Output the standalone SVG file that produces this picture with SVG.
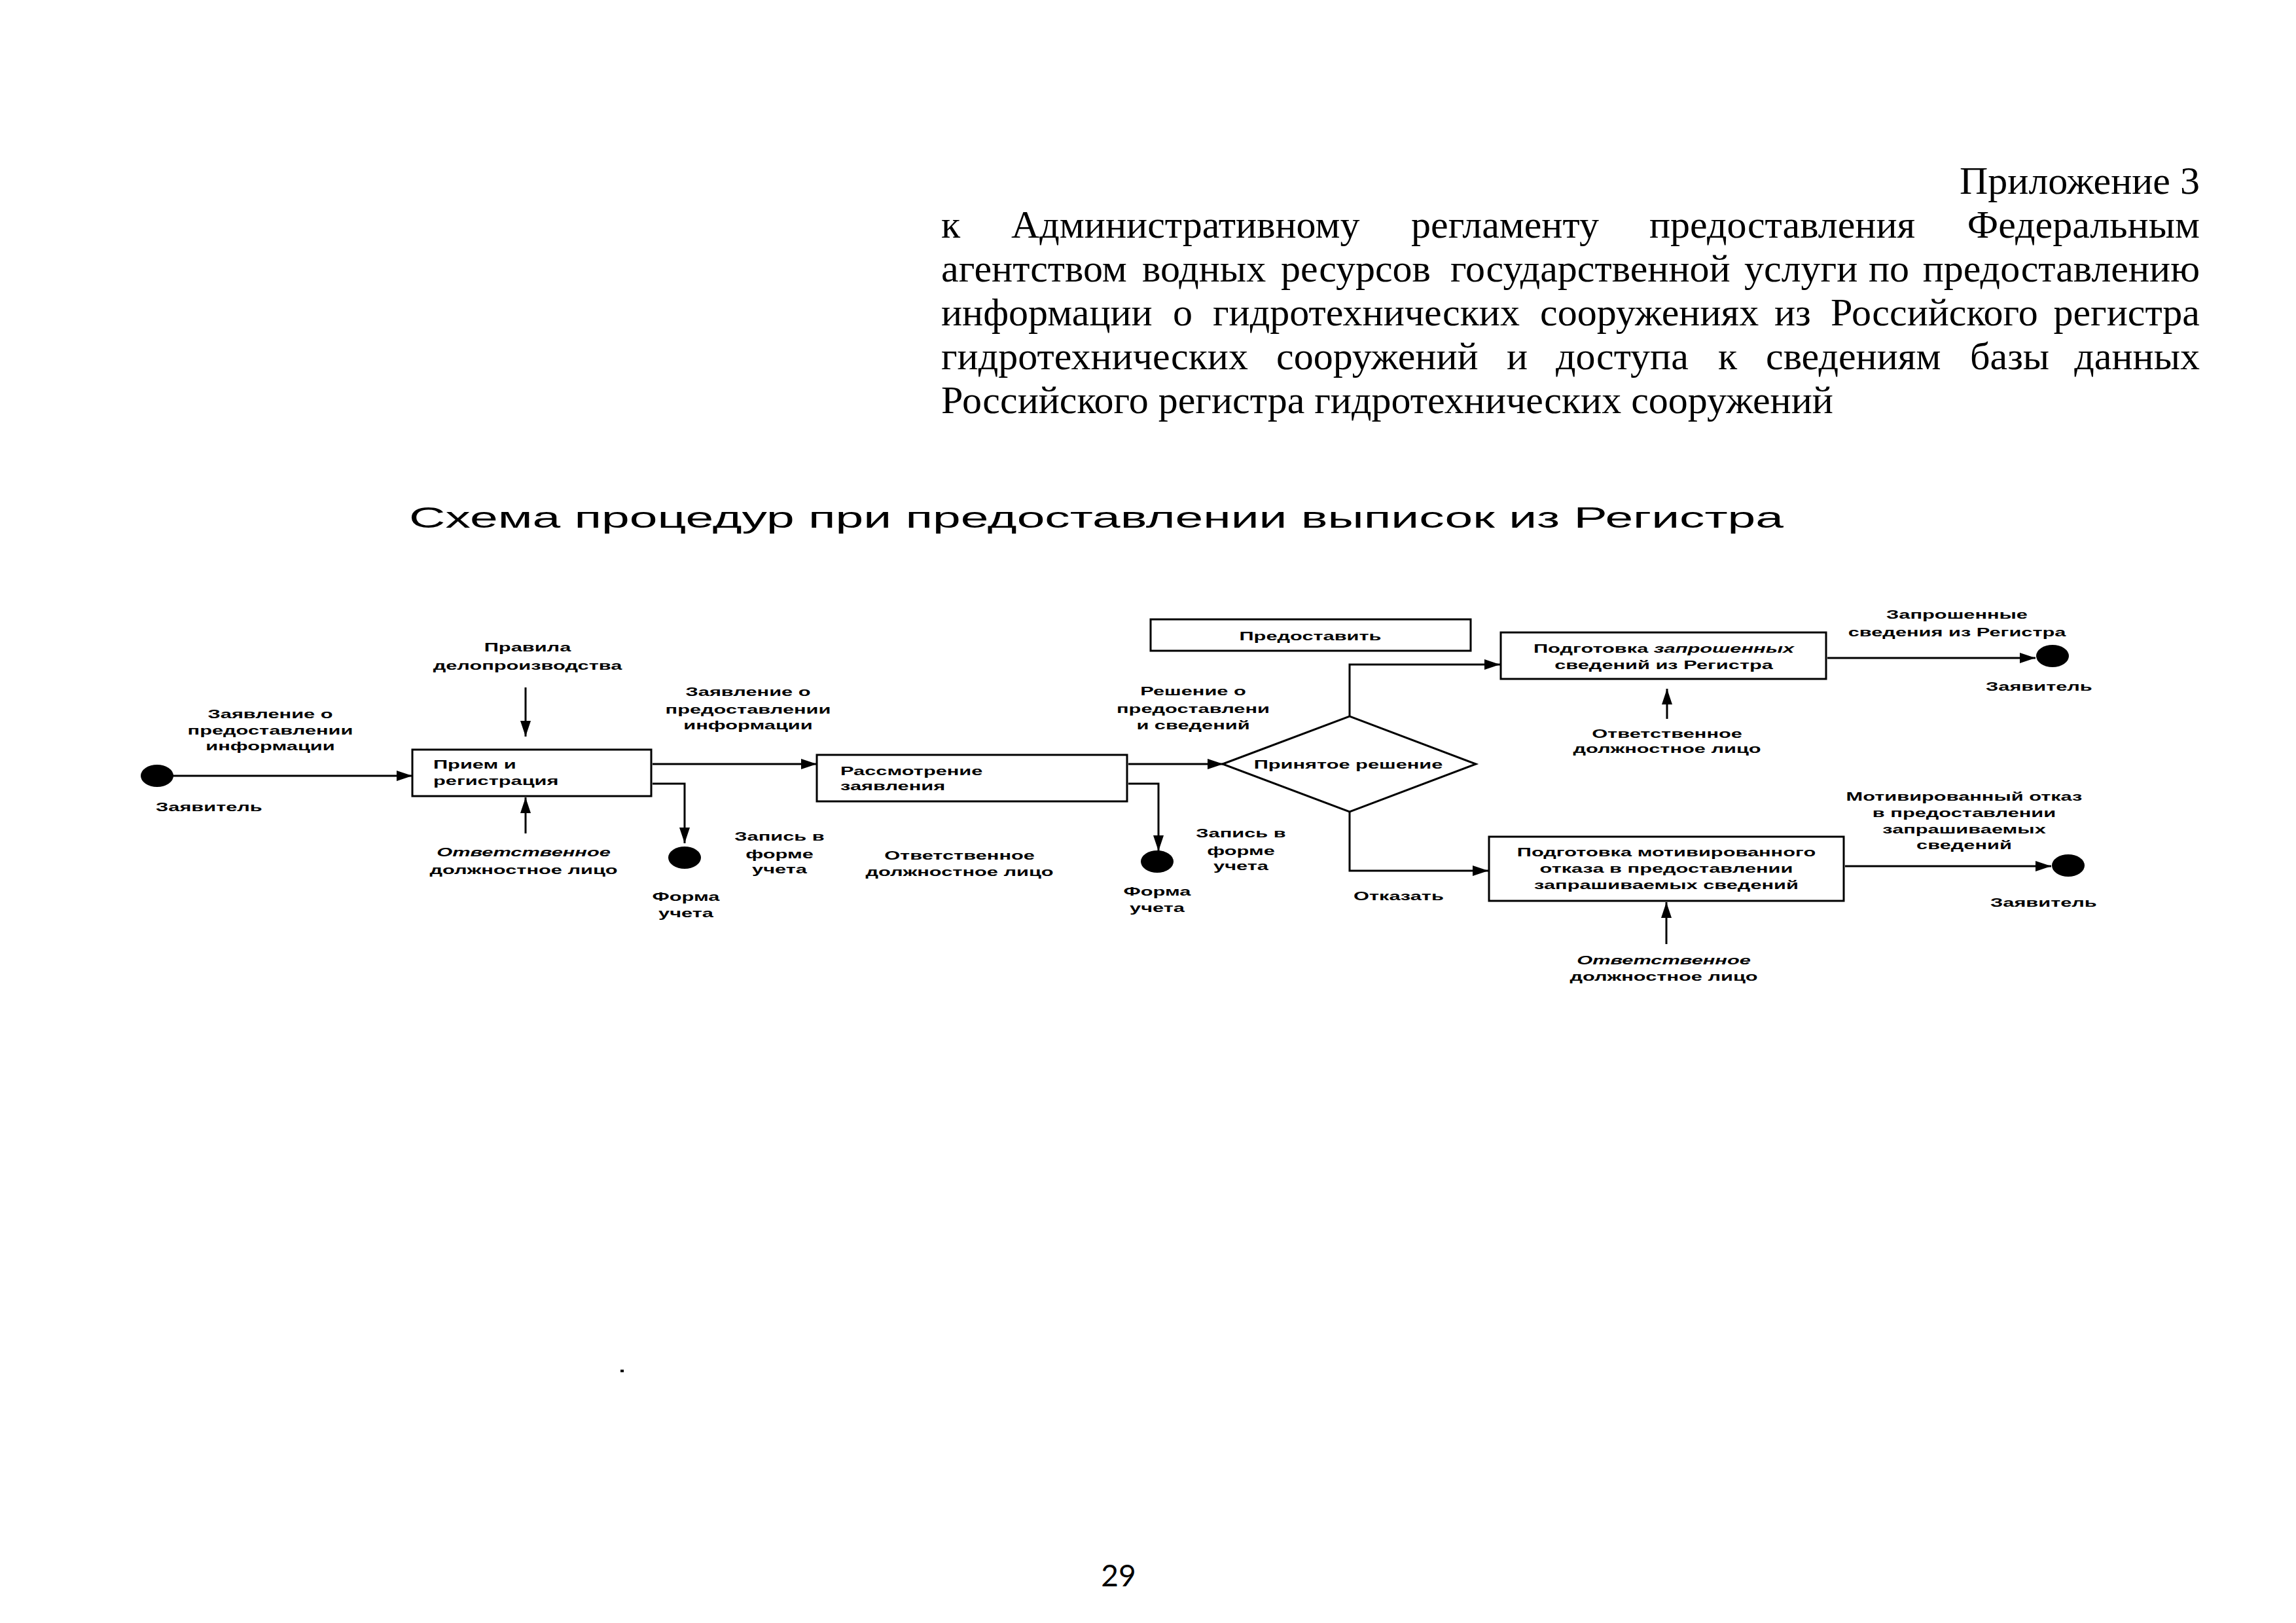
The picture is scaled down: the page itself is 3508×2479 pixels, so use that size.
<svg xmlns="http://www.w3.org/2000/svg" width="3508" height="2479" viewBox="0 0 3508 2479">
<style>
.hd{font-family:"Liberation Serif","Times New Roman",serif;font-size:60px;fill:#000}
.ttl{font-family:"Liberation Sans",Arial,sans-serif;font-size:44px;fill:#000}
.lb{font-family:"Liberation Sans",Arial,sans-serif;font-size:19px;font-weight:bold;fill:#000}
.it{font-style:italic}
.box{fill:#fff;stroke:#000;stroke-width:3}
.ln{fill:none;stroke:#000;stroke-width:3}
.dot{fill:#000}
.pg{font-family:Lato,"Liberation Sans",sans-serif;font-size:46px;fill:#000}
</style>
<defs>
<marker id="ah" markerUnits="userSpaceOnUse" markerWidth="26" markerHeight="18" refX="24" refY="8" orient="auto">
<path d="M0,0 L24,8 L0,16 Z" fill="#000"/>
</marker>
</defs>
<rect width="3508" height="2479" fill="#fff"/>

<g id="header">
<text class="hd" x="3361" y="296" text-anchor="end">Приложение 3</text>
<text class="hd" x="1438" y="363">к</text>
<text class="hd" x="1545" y="363">Административному</text>
<text class="hd" x="2156" y="363">регламенту</text>
<text class="hd" x="2520" y="363">предоставления</text>
<text class="hd" x="3361" y="363" text-anchor="end">Федеральным</text>
<text class="hd" x="1438" y="430">агентством</text>
<text class="hd" x="1745" y="430">водных</text>
<text class="hd" x="1957" y="430">ресурсов</text>
<text class="hd" x="2216" y="430">государственной</text>
<text class="hd" x="2665" y="430">услуги</text>
<text class="hd" x="2855" y="430">по</text>
<text class="hd" x="3361" y="430" text-anchor="end">предоставлению</text>
<text class="hd" x="1438" y="497">информации</text>
<text class="hd" x="1792" y="497">о</text>
<text class="hd" x="1853" y="497">гидротехнических</text>
<text class="hd" x="2353" y="497">сооружениях</text>
<text class="hd" x="2711" y="497">из</text>
<text class="hd" x="2797" y="497">Российского</text>
<text class="hd" x="3361" y="497" text-anchor="end">регистра</text>
<text class="hd" x="1438" y="564">гидротехнических</text>
<text class="hd" x="1950" y="564">сооружений</text>
<text class="hd" x="2302" y="564">и</text>
<text class="hd" x="2377" y="564">доступа</text>
<text class="hd" x="2625" y="564">к</text>
<text class="hd" x="2698" y="564">сведениям</text>
<text class="hd" x="3010" y="564">базы</text>
<text class="hd" x="3361" y="564" text-anchor="end">данных</text>
<text class="hd" x="1438" y="631">Российского регистра гидротехнических сооружений</text>
</g>

<text id="title" class="ttl" x="625" y="806" textLength="2100" lengthAdjust="spacingAndGlyphs">Схема процедур при предоставлении выписок из Регистра</text>

<g id="connectors">
<line class="ln" x1="255" y1="1185" x2="630" y2="1185" marker-end="url(#ah)"/>
<line class="ln" x1="803" y1="1050" x2="803" y2="1125" marker-end="url(#ah)"/>
<line class="ln" x1="803" y1="1273" x2="803" y2="1218" marker-end="url(#ah)"/>
<line class="ln" x1="997" y1="1167" x2="1248" y2="1167" marker-end="url(#ah)"/>
<polyline class="ln" points="997,1197 1046,1197 1046,1288" marker-end="url(#ah)"/>
<line class="ln" x1="1724" y1="1167" x2="1869" y2="1167" marker-end="url(#ah)"/>
<polyline class="ln" points="1724,1197 1770,1197 1770,1300" marker-end="url(#ah)"/>
<polyline class="ln" points="2062,1094 2062,1015 2292,1015" marker-end="url(#ah)"/>
<line class="ln" x1="2547" y1="1098" x2="2547" y2="1052" marker-end="url(#ah)"/>
<line class="ln" x1="2792" y1="1005" x2="3110" y2="1005" marker-end="url(#ah)"/>
<polyline class="ln" points="2062,1240 2062,1330 2274,1330" marker-end="url(#ah)"/>
<line class="ln" x1="2546" y1="1442" x2="2546" y2="1378" marker-end="url(#ah)"/>
<line class="ln" x1="2819" y1="1323" x2="3134" y2="1323" marker-end="url(#ah)"/>
</g>

<g id="start-applicant">
<ellipse class="dot" cx="240" cy="1185" rx="25" ry="17"/>
<text class="lb" transform="translate(238,1239) scale(1.62,1)">Заявитель</text>
</g>

<g id="label-application-1">
<text class="lb" transform="translate(413,1097) scale(1.62,1)" text-anchor="middle">Заявление о<tspan x="0" dy="25">предоставлении</tspan><tspan x="0" dy="24">информации</tspan></text>
</g>

<g id="label-rules">
<text class="lb" transform="translate(806,995) scale(1.62,1)" text-anchor="middle">Правила<tspan x="0" dy="28">делопроизводства</tspan></text>
</g>

<g id="box-reception">
<rect class="box" x="630" y="1145" width="365" height="71"/>
<text class="lb" transform="translate(662,1174) scale(1.62,1)">Прием и<tspan x="0" dy="25">регистрация</tspan></text>
</g>

<g id="label-official-1">
<text class="lb it" transform="translate(800,1308) scale(1.62,1)" text-anchor="middle">Ответственное</text>
<text class="lb" transform="translate(800,1335) scale(1.62,1)" text-anchor="middle">должностное лицо</text>
</g>

<g id="label-application-2">
<text class="lb" transform="translate(1143,1063) scale(1.62,1)" text-anchor="middle">Заявление о<tspan x="0" dy="27">предоставлении</tspan><tspan x="0" dy="24">информации</tspan></text>
</g>

<g id="end-form-1">
<ellipse class="dot" cx="1046" cy="1310" rx="25" ry="17"/>
<text class="lb" transform="translate(1048,1376) scale(1.62,1)" text-anchor="middle">Форма<tspan x="0" dy="25">учета</tspan></text>
<text class="lb" transform="translate(1191,1284) scale(1.62,1)" text-anchor="middle">Запись в<tspan x="0" dy="27">форме</tspan><tspan x="0" dy="23">учета</tspan></text>
</g>

<g id="box-review">
<rect class="box" x="1248" y="1153" width="474" height="71"/>
<text class="lb" transform="translate(1284,1184) scale(1.62,1)">Рассмотрение<tspan x="0" dy="23">заявления</tspan></text>
</g>

<g id="label-official-2">
<text class="lb" transform="translate(1466,1313) scale(1.62,1)" text-anchor="middle">Ответственное<tspan x="0" dy="25">должностное лицо</tspan></text>
</g>

<g id="label-decision">
<text class="lb" transform="translate(1823,1062) scale(1.62,1)" text-anchor="middle">Решение о<tspan x="0" dy="27">предоставлени</tspan><tspan x="0" dy="25">и сведений</tspan></text>
</g>

<g id="end-form-2">
<ellipse class="dot" cx="1768" cy="1316" rx="25" ry="17"/>
<text class="lb" transform="translate(1768,1368) scale(1.62,1)" text-anchor="middle">Форма<tspan x="0" dy="25">учета</tspan></text>
<text class="lb" transform="translate(1896,1279) scale(1.62,1)" text-anchor="middle">Запись в<tspan x="0" dy="27">форме</tspan><tspan x="0" dy="23">учета</tspan></text>
</g>

<g id="box-provide">
<rect class="box" x="1758" y="946" width="489" height="48"/>
<text class="lb" transform="translate(2002,978) scale(1.62,1)" text-anchor="middle">Предоставить</text>
</g>

<g id="decision">
<polygon class="box" points="1868,1167 2062,1094 2255,1167 2062,1240"/>
<text class="lb" transform="translate(2060,1174) scale(1.62,1)" text-anchor="middle">Принятое решение</text>
</g>

<g id="box-prepare-info">
<rect class="box" x="2293" y="966" width="497" height="71"/>
<text class="lb" transform="translate(2542,997) scale(1.62,1)" text-anchor="middle">Подготовка <tspan class="it">запрошенных</tspan><tspan x="0" dy="25">сведений из Регистра</tspan></text>
</g>

<g id="label-official-3">
<text class="lb" transform="translate(2547,1127) scale(1.62,1)" text-anchor="middle">Ответственное<tspan x="0" dy="23">должностное лицо</tspan></text>
</g>

<g id="end-applicant-1">
<ellipse class="dot" cx="3136" cy="1002" rx="25" ry="17"/>
<text class="lb" transform="translate(2990,945) scale(1.62,1)" text-anchor="middle">Запрошенные<tspan x="0" dy="27">сведения из Регистра</tspan></text>
<text class="lb" transform="translate(3034,1055) scale(1.62,1)">Заявитель</text>
</g>

<g id="label-refuse">
<text class="lb" transform="translate(2068,1375) scale(1.62,1)">Отказать</text>
</g>

<g id="box-prepare-refusal">
<rect class="box" x="2275" y="1278" width="542" height="98"/>
<text class="lb" transform="translate(2546,1308) scale(1.62,1)" text-anchor="middle">Подготовка мотивированного<tspan x="0" dy="25">отказа в предоставлении</tspan><tspan x="0" dy="25">запрашиваемых сведений</tspan></text>
</g>

<g id="label-official-4">
<text class="lb it" transform="translate(2542,1473) scale(1.62,1)" text-anchor="middle">Ответственное</text>
<text class="lb" transform="translate(2542,1498) scale(1.62,1)" text-anchor="middle">должностное лицо</text>
</g>

<g id="end-applicant-2">
<ellipse class="dot" cx="3160" cy="1322" rx="25" ry="17"/>
<text class="lb" transform="translate(3001,1223) scale(1.62,1)" text-anchor="middle">Мотивированный отказ<tspan x="0" dy="25">в предоставлении</tspan><tspan x="0" dy="25">запрашиваемых</tspan><tspan x="0" dy="24">сведений</tspan></text>
<text class="lb" transform="translate(3041,1385) scale(1.62,1)">Заявитель</text>
</g>

<rect x="948" y="2092" width="5" height="4" fill="#000"/>
<text id="page-number" class="pg" x="1709" y="2423" text-anchor="middle">29</text>
</svg>
